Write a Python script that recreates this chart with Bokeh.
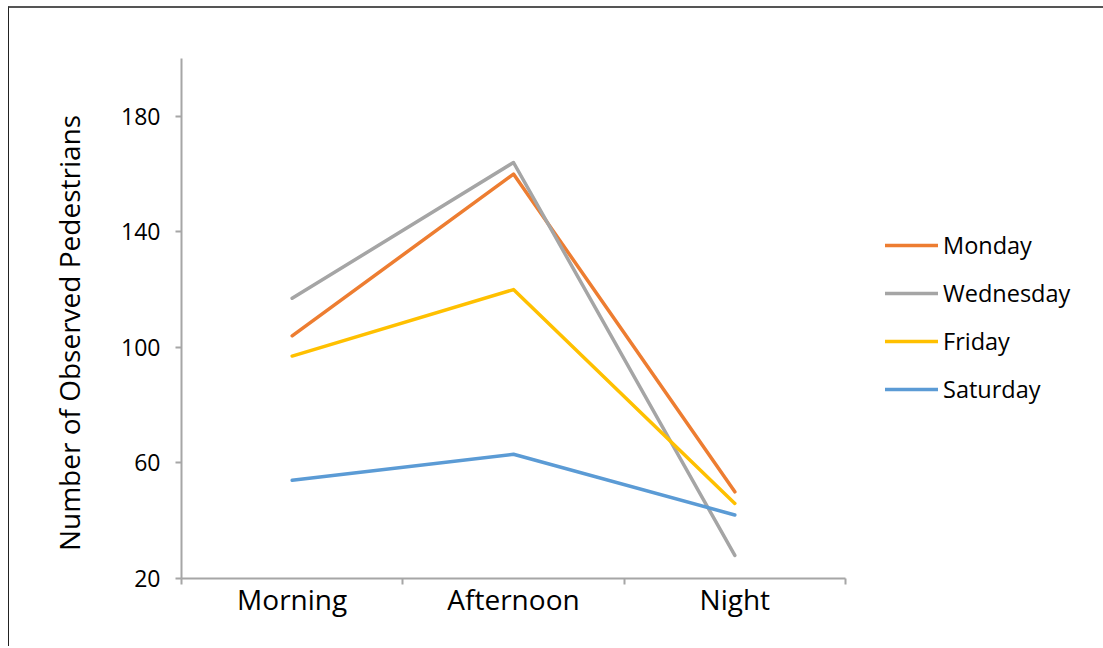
from bokeh.plotting import figure
from bokeh.models import FixedTicker, Legend, LegendItem, Range1d
from bokeh.embed import file_html
from bokeh.resources import INLINE

categories = ["Morning", "Afternoon", "Night"]
monday = [104, 160, 50]
wednesday = [117, 164, 28]
friday = [97, 120, 46]
saturday = [54, 63, 42]
series_names = ["Monday", "Wednesday", "Friday", "Saturday"]
series_values = [monday, wednesday, friday, saturday]
series_colors = ["#ED7D31", "#A5A5A5", "#FFC000", "#5B9BD5"]
y_ticks = [20, 60, 100, 140, 180]

FONT = "Open Sans"

p = figure(frame_width=664, frame_height=520, output_backend="svg", toolbar_location=None,
           x_range=Range1d(0, len(categories)), y_range=Range1d(20, 200),
           min_border_left=172, min_border_right=10, min_border_top=50, min_border_bottom=68)
p.styles = {"margin-left": "8px", "margin-top": "6px",
            "border-left": "1px solid #222222", "border-top": "2px solid #555555"}
p.grid.visible = False
p.outline_line_color = None
p.background_fill_color = "white"
p.border_fill_color = "white"

xs = [i + 0.5 for i in range(len(categories))]
items = []
for name, vals, col in zip(series_names, series_values, series_colors):
    r = p.line(xs, vals, line_color=col, line_width=3.5, line_cap="round", line_join="round")
    items.append(LegendItem(label=name, renderers=[r]))

# x axis
p.xaxis.ticker = FixedTicker(ticks=xs, minor_ticks=list(range(len(categories) + 1)))
p.xaxis.major_label_overrides = {x: c for x, c in zip(xs, categories)}
p.xaxis.major_tick_out = 0
p.xaxis.major_tick_in = 0
p.xaxis.minor_tick_out = 6
p.xaxis.minor_tick_in = 0
p.xaxis.minor_tick_line_color = "#A6A6A6"
p.xaxis.minor_tick_line_width = 2
p.xaxis.axis_line_color = "#A6A6A6"
p.xaxis.axis_line_width = 2
p.xaxis.major_label_text_font = FONT
p.xaxis.major_label_text_font_size = "28px"
p.xaxis.major_label_text_color = "#000000"
p.xaxis.major_label_standoff = -5

# y axis
p.yaxis.ticker = FixedTicker(ticks=y_ticks, minor_ticks=[])
p.yaxis.major_tick_out = 6
p.yaxis.major_tick_in = 0
p.yaxis.major_tick_line_color = "#A6A6A6"
p.yaxis.major_tick_line_width = 2
p.yaxis.axis_line_color = "#A6A6A6"
p.yaxis.axis_line_width = 2
p.yaxis.major_label_text_font = FONT
p.yaxis.major_label_text_font_size = "23px"
p.yaxis.major_label_text_color = "#000000"
p.yaxis.major_label_standoff = 15
p.yaxis.axis_label = "Number of Observed Pedestrians\u00a0\u00a0\u00a0\u00a0"
p.yaxis.axis_label_text_font = FONT
p.yaxis.axis_label_text_font_size = "28px"
p.yaxis.axis_label_text_font_style = "normal"
p.yaxis.axis_label_text_color = "#000000"
p.yaxis.axis_label_standoff = 30

legend = Legend(items=items, location=(40, 173), orientation="vertical",
                glyph_width=53, glyph_height=24, label_height=24, spacing=16,
                label_standoff=5, padding=0, margin=0,
                label_text_font=FONT, label_text_font_size="23.5px",
                label_text_color="#000000",
                border_line_color=None, background_fill_alpha=0)
p.add_layout(legend, "right")

open("out.html", "w").write(file_html(p, INLINE))
